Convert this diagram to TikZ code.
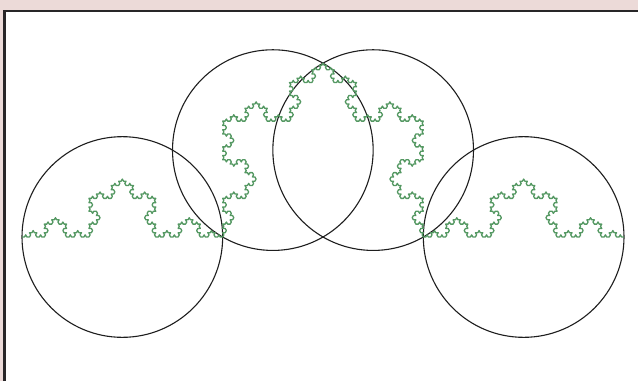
\documentclass[tikz,border=0pt]{standalone}
\usetikzlibrary{lindenmayersystems}
\definecolor{bgpink}{RGB}{236,218,216}
\definecolor{framegrey}{RGB}{40,38,40}
\definecolor{kochgreen}{RGB}{84,152,98}
\definecolor{circgrey}{RGB}{30,30,30}
\pgfdeclarelindenmayersystem{KochRule}{\rule{F -> F+F--F+F}}
\tikzset{
  kochcurve/.style={draw=kochgreen, line width=1.3pt, line join=round,
    l-system={KochRule, axiom=F, order=5, step=2.4774pt, angle=60}},
  enclosing/.style={draw=circgrey, line width=1.1pt},
  frameline/.style={draw=framegrey, line width=2.5pt}
}
\begin{document}
\begin{tikzpicture}[x=1pt,y=1pt]
  \useasboundingbox (0,0) rectangle (638,-381);
  \fill[bgpink] (0,0) rectangle (638,-381);
  \fill[white] (4.5,-11) rectangle (638,-381);
  \draw[frameline] (4.5,-381) -- (4.5,-11) -- (638,-11);
  % Koch curve start and circle centres
  \coordinate (A) at (22,-237);
  \coordinate (c1) at (122.33,-237);
  \coordinate (c2) at (272.83,-150.1);
  \coordinate (c3) at (373.17,-150.1);
  \coordinate (c4) at (523.67,-237);
  % circles
  \draw[enclosing] (c1) circle[radius=100.33];
  \draw[enclosing] (c2) circle[radius=100.33];
  \draw[enclosing] (c3) circle[radius=100.33];
  \draw[enclosing] (c4) circle[radius=100.33];
  % Koch curve
  \begin{scope}[shift={(A)}]
    \draw[kochcurve] lindenmayer system;
  \end{scope}
\end{tikzpicture}
\end{document}
